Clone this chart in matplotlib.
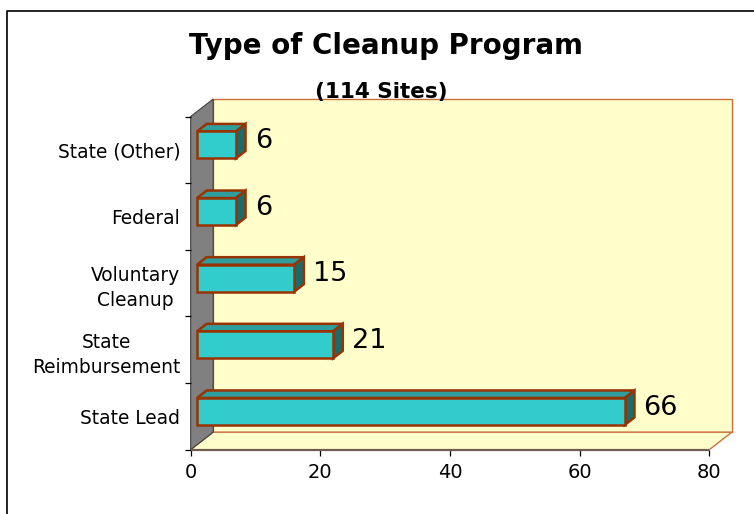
import matplotlib
matplotlib.use("Agg")
import matplotlib.pyplot as plt
from matplotlib.patches import Polygon, Rectangle
from matplotlib.lines import Line2D

TITLE = "Type of Cleanup Program"
SUBTITLE = "(114 Sites)"
categories = ["State Lead", "State\nReimbursement", "Voluntary\nCleanup", "Federal", "State (Other)"]
values = [66, 21, 15, 6, 6]
x_ticks = [0, 20, 40, 60, 80]
x_max = 80

# depth of the fake 3d box, in data units (x in value units, y in category units)
DEPTH_X = 3.47
DEPTH_Y = 0.263
BAR_FRONT = 0.28
BAR_BACK = 0.71
BAR_HEIGHT = 0.405

WALL = "#FFFFCC"
WALL_EDGE = "#C8703C"
SIDE_WALL = "#808080"
BAR_FACE = "#33CCCC"
BAR_TOP = "#2E9E9E"
BAR_SIDE = "#1C6B6B"
BAR_EDGE = "#993300"


def draw_box(ax, n):
	back = Rectangle((DEPTH_X, DEPTH_Y), x_max, n, facecolor=WALL,
		edgecolor=WALL_EDGE, linewidth=1, zorder=1, clip_on=False)
	ax.add_patch(back)

	floor = Polygon([(0, 0), (x_max, 0), (x_max + DEPTH_X, DEPTH_Y), (DEPTH_X, DEPTH_Y)],
		closed=True, facecolor=WALL, edgecolor=WALL_EDGE, linewidth=1, zorder=1, clip_on=False)
	ax.add_patch(floor)

	side = Polygon([(0, 0), (DEPTH_X, DEPTH_Y), (DEPTH_X, n + DEPTH_Y), (0, n)],
		closed=True, facecolor=SIDE_WALL, edgecolor="#404040", linewidth=0.8, zorder=1, clip_on=False)
	ax.add_patch(side)

	ax.plot([0, x_max], [0, 0], color="#6e5e50", linewidth=1.6, zorder=2,
		clip_on=False, solid_capstyle="butt")


def draw_bar(ax, i, v):
	y0 = i + 0.5 - BAR_HEIGHT / 2
	y1 = y0 + BAR_HEIGHT
	fx, fy = BAR_FRONT * DEPTH_X, BAR_FRONT * DEPTH_Y
	bx, by = BAR_BACK * DEPTH_X, BAR_BACK * DEPTH_Y
	style = dict(edgecolor=BAR_EDGE, linewidth=1.8, joinstyle="miter", zorder=3, clip_on=False)

	top = Polygon([(fx, y1 + fy), (v + fx, y1 + fy), (v + bx, y1 + by), (bx, y1 + by)],
		closed=True, facecolor=BAR_TOP, **style)
	right = Polygon([(v + fx, y0 + fy), (v + bx, y0 + by), (v + bx, y1 + by), (v + fx, y1 + fy)],
		closed=True, facecolor=BAR_SIDE, **style)
	front = Rectangle((fx, y0 + fy), v, BAR_HEIGHT, facecolor=BAR_FACE, **style)
	for patch in (top, right, front):
		ax.add_patch(patch)

	mid = (BAR_FRONT + BAR_BACK) / 2
	ax.text(v + bx + 1.4, i + 0.5 + mid * DEPTH_Y, str(v), fontsize=19.5,
		ha="left", va="center", zorder=4)


def main():
	fig = plt.figure(figsize=(7.54, 5.14), dpi=100)
	ax = fig.add_axes([0.2529, 0.1251, 0.7176, 0.6823])
	ax.set_facecolor("none")
	n = len(categories)

	draw_box(ax, n)
	for i, v in enumerate(values):
		draw_bar(ax, i, v)

	ax.set_xlim(0, x_max + DEPTH_X)
	ax.set_ylim(0, n + DEPTH_Y)
	for spine in ax.spines.values():
		spine.set_visible(False)

	ax.set_xticks(x_ticks)
	ax.set_xticklabels([str(t) for t in x_ticks])
	ax.tick_params(axis="x", direction="out", length=4.3, width=0.9, pad=5.5, labelsize=14)

	ax.set_yticks(range(n + 1))
	ax.set_yticklabels([])
	ax.set_yticks([i + 0.5 for i in range(n)], minor=True)
	ax.set_yticklabels(categories, minor=True)
	ax.tick_params(axis="y", which="major", direction="out", length=4.3, width=0.9)
	ax.tick_params(axis="y", which="minor", length=0, pad=7.5, labelsize=13.4)
	plt.setp(ax.get_yticklabels(minor=True), multialignment="center", linespacing=1.4)

	fig.text(0.5113, 1 - 54.5 / 514, TITLE, fontsize=20, fontweight="bold",
		ha="center", va="baseline")
	fig.text(0.506, 1 - 97.7 / 514, SUBTITLE, fontsize=15.5, fontweight="bold",
		ha="center", va="baseline", zorder=5)

	# outer frame: only left and top edges show in the original
	fig.add_artist(Line2D([7.3 / 754, 7.3 / 754, 1], [0, 1 - 10.7 / 514, 1 - 10.7 / 514],
		color="black", linewidth=1.2))

	fig.savefig("out.png", dpi=100)
	plt.close(fig)
	return 0


if __name__ == "__main__":
	raise SystemExit(main())
